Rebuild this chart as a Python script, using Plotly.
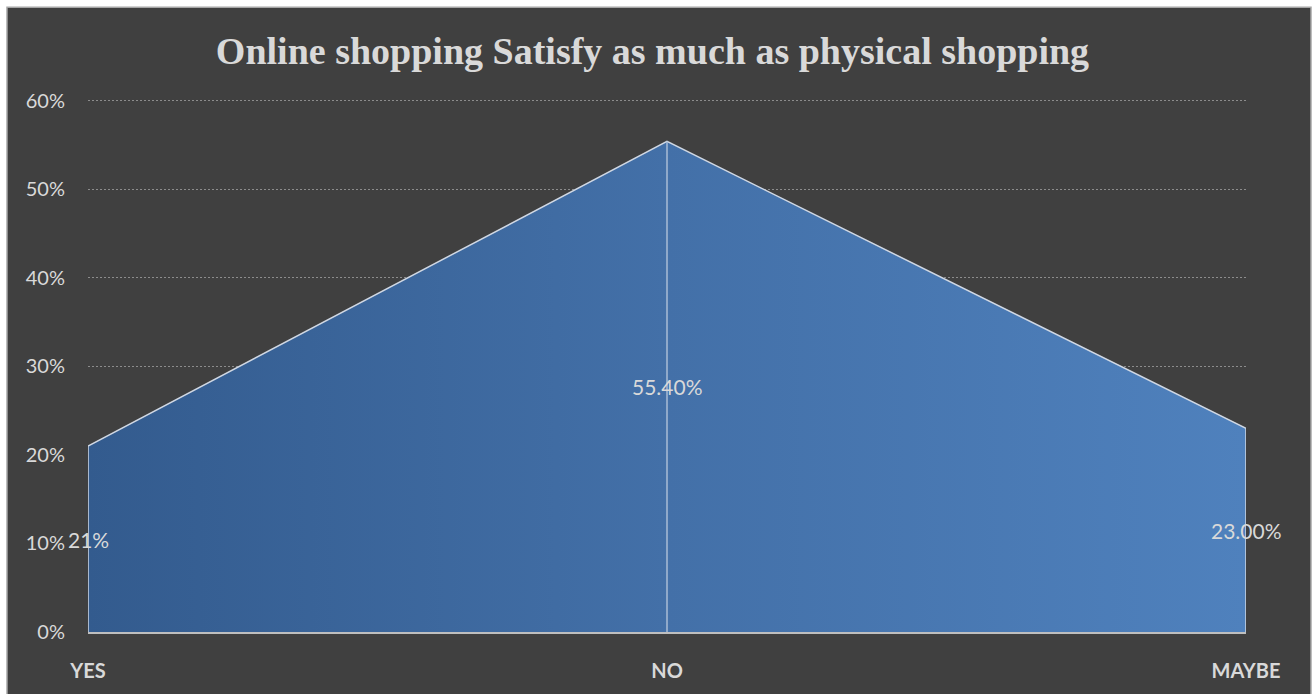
import plotly.graph_objects as go

categories = ["YES", "NO", "MAYBE"]
values = [0.21, 0.554, 0.23]
value_labels = ["21%", "55.40%", "23.00%"]
y_tickvals = [0, 0.1, 0.2, 0.3, 0.4, 0.5, 0.6]
y_ticktext = ["0%", "10%", "20%", "30%", "40%", "50%", "60%"]
title_text = "Online shopping Satisfy as much as physical shopping"

W, H = 1312, 694
L, R, T, B = 88, 66, 83, 60
pw, ph = W - L - R, H - T - B
y_max = 0.62

fig = go.Figure()

# closed polygon of the area (from data)
px = [categories[0]] + categories + [categories[-1]]
py = [0] + values + [0]
fig.add_trace(go.Scatter(
    x=px, y=py, mode="lines", fill="toself",
    fillgradient=dict(type="horizontal",
                      colorscale=[[0, "#335b8e"], [0.5, "#4370a8"], [1, "#4f81bd"]]),
    line=dict(color="#d0d8e4", width=1.5),
    hoverinfo="skip", showlegend=False,
))
# drop line at the peak category
fig.add_trace(go.Scatter(
    x=[categories[1], categories[1]], y=[0, values[1]], mode="lines",
    line=dict(color="#a9bcd6", width=1.5), hoverinfo="skip", showlegend=False,
))

for c, v, t in zip(categories, values, value_labels):
    fig.add_annotation(x=c, y=v / 2, text=t, showarrow=False,
                       font=dict(family="Lato, Open Sans, sans-serif", size=21, color="#d9d9d9"),
                       xanchor="center", yanchor="middle")

# dark chart background with border
x0 = (7 - L) / pw
x1 = (1311 - L) / pw
y1 = (H - B - 7) / ph
y0 = (H - B - 700) / ph
fig.add_shape(type="rect", xref="paper", yref="paper", x0=x0, x1=x1, y0=y0, y1=y1,
              fillcolor="#404040", line=dict(color="#a6a6a6", width=1.5), layer="below")

fig.update_layout(
    width=W, height=H,
    margin=dict(l=L, r=R, t=T, b=B),
    paper_bgcolor="white",
    plot_bgcolor="rgba(0,0,0,0)",
    title=dict(text=f"<b>{title_text}</b>", x=(652.5 - L) / pw, xref="paper", xanchor="center",
               y=(H - 51) / H, yref="container", yanchor="middle",
               font=dict(family="Liberation Serif, Times New Roman, serif", size=38, color="#d9d9d9")),
    xaxis=dict(type="category", categoryorder="array", categoryarray=categories,
               range=[0, len(categories) - 1], showgrid=False, zeroline=False,
               showline=True, linecolor="#bfbfbf", linewidth=1.5,
               tickfont=dict(family="Lato, Open Sans, sans-serif", size=20, color="#d9d9d9",
                             weight="bold"),
               ticks="", ticklabelstandoff=20),
    yaxis=dict(range=[0, y_max], tickvals=y_tickvals, ticktext=y_ticktext,
               showgrid=True, gridcolor="#8c8c8c", griddash="1.5px,2.5px", gridwidth=1,
               zeroline=False, showline=False, ticks="",
               tickfont=dict(family="Lato, Open Sans, sans-serif", size=20, color="#d9d9d9"),
               ticklabelstandoff=22),
    hovermode=False,
)

fig.write_html("out.html")
